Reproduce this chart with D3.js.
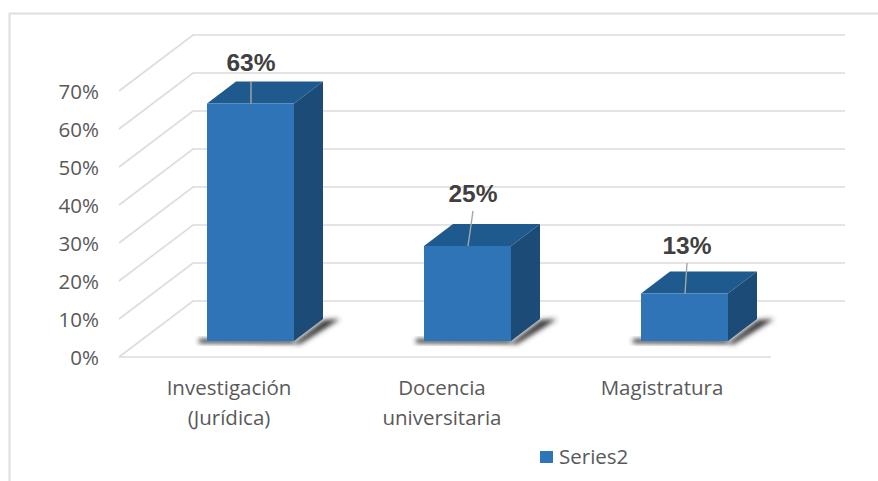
<!DOCTYPE html>
<html><head><meta charset="utf-8">
<script src="https://cdn.jsdelivr.net/npm/d3@7"></script>
<style>html,body{margin:0;padding:0;background:#fff}svg{display:block}</style></head>
<body><svg id="c" width="878" height="481"></svg>
<script>
const categories = [["Investigación","(Jurídica)"],["Docencia","universitaria"],["Magistratura"]];
const values = [62.5, 25, 12.5];
const ticks = [0,10,20,30,40,50,60,70];
const seriesName = "Series2";

const W=878,H=481;
const svg=d3.select("#c");
const defs=svg.append("defs");
const f=defs.append("filter").attr("id","blur").attr("x","-30%").attr("y","-60%").attr("width","160%").attr("height","220%");
f.append("feGaussianBlur").attr("stdDeviation",2.6);

const y=d3.scaleLinear().domain([0,70]).range([357,91]);
const x=d3.scaleBand().domain(d3.range(categories.length)).range([142,793]);
const barW=87, wallDx=74, wallDy=-56, depthDx=29, depthDy=-22, insetDy=-16;
const barX=i=>x(i)+x.bandwidth()/2-barW/2;
const baseY=y(0)+insetDy;
const h=v=>y(0)-y(v);

svg.append("path").attr("d",`M9.5,${H} V13.5 H${W}`).attr("fill","none").attr("stroke","#dedede").attr("stroke-width",2);

const grid=svg.append("g").attr("fill","none").attr("stroke","#dcdcdc").attr("stroke-width",1.6);
ticks.forEach(t=>{
  grid.append("path").attr("d",`M119,${y(t)} L${119+wallDx},${y(t)+wallDy} H845`);
});
grid.append("path").attr("d",`M119,${y(0)} H771`);

const font="'Open Sans'", textFill="#595959", textSize=20.5;
svg.append("g").selectAll("text").data(ticks).join("text")
 .attr("x",99).attr("y",t=>y(t)+7.5).attr("text-anchor","end")
 .attr("font-family",font).attr("font-size",textSize).attr("fill",textFill)
 .text(t=>t+"%");

const bars=svg.append("g");
values.forEach((v,i)=>{
  const x0=barX(i),x1=x0+barW,b=baseY,t=b-h(v);
  const g=bars.append("g");
  g.append("path").attr("d",`M${x0-14},${b+1} L${x1},${b+2} L${x1+depthDx+1},${b+depthDy+1} L${x1+depthDx+17},${b+depthDy} L${x1+6},${b+3} Z`)
    .attr("fill","#303030").attr("filter","url(#blur)");
  g.append("rect").attr("x",x0-8).attr("y",b-2).attr("width",barW+8).attr("height",4).attr("fill","#2a2a2a").attr("filter","url(#blur)");
  g.append("path").attr("d",`M${x0},${t} L${x0+depthDx},${t+depthDy} H${x1+depthDx} L${x1},${t} Z`).attr("fill","#1f5a8e");
  g.append("path").attr("d",`M${x1},${t} L${x1+depthDx},${t+depthDy} V${b+depthDy} L${x1},${b} Z`).attr("fill","#1c4b77");
  g.append("rect").attr("x",x0).attr("y",t).attr("width",barW).attr("height",b-t).attr("fill","#2e74b7");
});

const leaderEnd=[[251,81],[473,211],[687,263]];
const labelPos=[[251,71],[473,202],[687,254]];
values.forEach((v,i)=>{
  const sy=baseY-h(v);
  svg.append("line").attr("x1",barX(i)+44).attr("y1",sy).attr("x2",leaderEnd[i][0]).attr("y2",leaderEnd[i][1])
    .attr("stroke","#a6a6a6").attr("stroke-width",1.4);
  svg.append("text").attr("x",labelPos[i][0]).attr("y",labelPos[i][1]).attr("text-anchor","middle")
    .attr("font-family","'Liberation Sans'").attr("font-weight","bold").attr("font-size",24.5).attr("fill","#404040")
    .text(d3.format(".0f")(v)+"%");
});

const catCx=[229,442,662];
categories.forEach((c,i)=>{
  c.forEach((s,j)=>{
    svg.append("text").attr("x",catCx[i]).attr("y",395+j*30).attr("text-anchor","middle")
     .attr("font-family",font).attr("font-size",textSize).attr("fill",textFill).text(s);
  });
});

svg.append("rect").attr("x",540).attr("y",451).attr("width",13).attr("height",12).attr("fill","#2e74b7");
svg.append("text").attr("x",559).attr("y",464).attr("font-family",font).attr("font-size",textSize).attr("fill",textFill).text(seriesName);
</script></body></html>
